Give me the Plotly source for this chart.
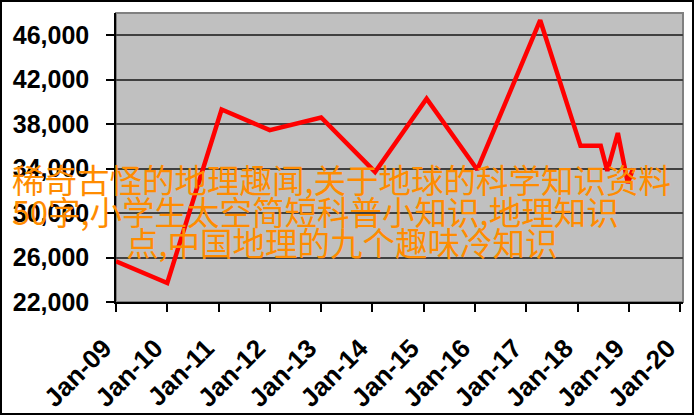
import plotly.graph_objects as go

# ---- data ----
dates = ["2009-01-01", "2010-01-01", "2011-01-23", "2012-01-01", "2013-01-01",
         "2014-01-20", "2015-01-22", "2016-01-18", "2017-04-10", "2018-01-22",
         "2018-06-15", "2018-08-01", "2018-10-15", "2018-12-25", "2019-02-01"]
values = [25670, 23710, 39320, 37460, 38600,
          33700, 40300, 33900, 47350, 36050,
          36050, 33800, 37200, 32700, 34000]

y_ticks = [22000, 26000, 30000, 34000, 38000, 42000, 46000]
y_ticklabels = ["22,000", "26,000", "30,000", "34,000", "38,000", "42,000", "46,000"]
x_ticks = ["%d-01-01" % y for y in range(2009, 2021)]
x_ticklabels = ["Jan-%02d" % (y % 100) for y in range(2009, 2021)]

overlay_lines = ["稀奇古怪的地理趣闻,关于地球的科学知识资料",
                 "50字,小学生太空简短科普小知识,地理知识",
                 "点,中国地理的九个趣味冷知识"]

W, H = 694, 415
L, R, T, B = 116, 683, 13, 302

def px_x(p):
    return (p - L) / (R - L)

def px_y(p):
    return (B - p) / (B - T)

fig = go.Figure()
fig.add_trace(go.Scatter(x=dates, y=values, mode="lines",
                         line=dict(color="#FF0000", width=4.5),
                         showlegend=False, hoverinfo="skip"))

fig.update_layout(
    width=W, height=H,
    margin=dict(l=L, r=W - R, t=T, b=H - B, pad=0, autoexpand=False),
    paper_bgcolor="white",
    plot_bgcolor="#C0C0C0",
    xaxis=dict(type="date", range=["2009-01-01", "2020-01-22"], automargin=False,
               tickvals=x_ticks, ticktext=["<b>%s</b>" % t for t in x_ticklabels],
               tickangle=-45,
               tickfont=dict(family="Liberation Sans, Arial", size=26, color="black"),
               ticks="outside", ticklen=8, tickwidth=1.5, tickcolor="black",
               showgrid=False, zeroline=False,
               showline=True, linecolor="black", linewidth=1.5,
               ticklabelstandoff=11, ticklabelshift=-12),
    yaxis=dict(range=[22000, 48000], automargin=False,
               tickvals=y_ticks, ticktext=["<b>%s</b>" % t for t in y_ticklabels],
               tickfont=dict(family="Liberation Sans, Arial", size=25, color="black"),
               ticks="outside", ticklen=8, tickwidth=1.5, tickcolor="black",
               showgrid=True, gridcolor="#404040", gridwidth=2,
               zeroline=False,
               showline=True, linecolor="black", linewidth=1.5,
               ticklabelstandoff=12),
)

# plot-area frame (gray)
fig.add_shape(type="rect", xref="paper", yref="paper", x0=0, x1=1, y0=0, y1=1,
              line=dict(color="#808080", width=2), layer="below")
# outer black frame
fig.add_shape(type="rect", xref="paper", yref="paper",
              x0=px_x(1), x1=px_x(693), y0=px_y(414), y1=px_y(1),
              line=dict(color="black", width=2))

line_pos = [(10, 178), (10, 210), (124, 241)]
for txt, (x, y) in zip(overlay_lines, line_pos):
    fig.add_annotation(text=txt, xref="paper", yref="paper",
                       x=px_x(x), y=px_y(y), xanchor="left", yanchor="middle",
                       showarrow=False,
                       font=dict(family="Noto Sans CJK SC", size=32.5, color="#FF8C00"))

fig.write_html("out.html", config={"displayModeBar": False},
               post_script="document.body.style.margin='0';document.body.style.overflow='hidden';")
